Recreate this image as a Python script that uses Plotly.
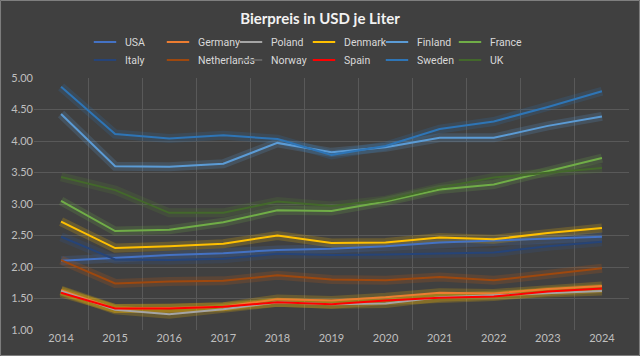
import plotly.graph_objects as go

years = ["2014", "2015", "2016", "2017", "2018", "2019", "2020", "2021", "2022", "2023", "2024"]

usa = [2.10, 2.15, 2.19, 2.22, 2.27, 2.29, 2.33, 2.39, 2.42, 2.45, 2.48]
germany = [1.63, 1.34, 1.35, 1.37, 1.49, 1.47, 1.52, 1.59, 1.58, 1.65, 1.70]
poland = [1.62, 1.32, 1.25, 1.33, 1.44, 1.41, 1.42, 1.52, 1.55, 1.59, 1.62]
denmark = [2.72, 2.30, 2.33, 2.37, 2.50, 2.38, 2.39, 2.47, 2.44, 2.54, 2.62]
finland = [4.43, 3.60, 3.59, 3.64, 3.97, 3.82, 3.90, 4.05, 4.05, 4.24, 4.39]
france = [3.05, 2.57, 2.59, 2.71, 2.90, 2.89, 3.04, 3.23, 3.31, 3.52, 3.73]
italy = [2.48, 2.12, 2.11, 2.13, 2.21, 2.19, 2.20, 2.22, 2.23, 2.33, 2.40]
netherlands = [2.11, 1.74, 1.77, 1.78, 1.87, 1.80, 1.79, 1.84, 1.79, 1.89, 1.98]
norway = [7.60, 6.90, 6.80, 6.90, 7.10, 6.80, 6.60, 7.00, 6.90, 7.10, 7.30]
spain = [1.59, 1.34, 1.34, 1.37, 1.44, 1.41, 1.47, 1.51, 1.53, 1.61, 1.66]
sweden = [4.86, 4.11, 4.04, 4.09, 4.03, 3.78, 3.92, 4.19, 4.31, 4.54, 4.79]
uk = [3.43, 3.22, 2.86, 2.86, 3.04, 2.97, 3.06, 3.26, 3.42, 3.49, 3.57]

series = [
    ("USA", usa, "#4472C4", "legend"),
    ("Germany", germany, "#ED7D31", "legend"),
    ("Poland", poland, "#A5A5A5", "legend"),
    ("Denmark", denmark, "#FFC000", "legend"),
    ("Finland", finland, "#5B9BD5", "legend"),
    ("France", france, "#70AD47", "legend"),
    ("Italy", italy, "#264478", "legend2"),
    ("Netherlands", netherlands, "#9E480E", "legend2"),
    ("Norway", norway, "#636363", "legend2"),
    ("Spain", spain, "#FF0000", "legend2"),
    ("Sweden", sweden, "#2E75B6", "legend2"),
    ("UK", uk, "#43682B", "legend2"),
]

glow = {
    "USA": "#4472C4", "Germany": "#FFC000", "Poland": "#FFC000", "Denmark": "#FFC000",
    "Finland": "#5B9BD5", "France": "#70AD47", "Italy": "#2F5597", "Netherlands": "#C55A11",
    "Norway": "#636363", "Spain": "#FFC000", "Sweden": "#2E75B6", "UK": "#548235",
}

fig = go.Figure()

# glow underlays
for name, vals, col, lg in series:
    fig.add_trace(go.Scatter(
        x=years, y=vals, mode="lines", showlegend=False, hoverinfo="skip",
        line=dict(color=glow[name], width=9), opacity=0.2,
    ))

for name, vals, col, lg in series:
    fig.add_trace(go.Scatter(
        x=years, y=vals, mode="lines", name=name, showlegend=False,
        line=dict(color=col, width=2),
    ))

# legend entries (short line samples like the original)
for name, vals, col, lg in series:
    fig.add_trace(go.Scatter(
        x=[None], y=[None], mode="markers", name=name, legend=lg,
        marker=dict(symbol="line-ew", size=18, color=col,
                    line=dict(color=col, width=2)),
    ))

txt = "#D9D9D9"
leg_font = dict(family="Liberation Sans Narrow, Roboto, Lato, sans-serif", size=10.5, color=txt)
leg_common = dict(orientation="h", xref="container", yref="container",
                  xanchor="left", yanchor="middle",
                  entrywidth=28, entrywidthmode="pixels", itemwidth=30,
                  bgcolor="rgba(0,0,0,0)", font=leg_font,
                  traceorder="normal", tracegroupgap=0)

fig.update_layout(
    width=640, height=356,
    paper_bgcolor="#404040", plot_bgcolor="#404040",
    margin=dict(l=34, r=11, t=78, b=26, autoexpand=False),
    font=dict(family="Lato, Open Sans, sans-serif", size=11, color=txt),
    title=dict(text="<b>Bierpreis in USD je Liter</b>", x=0.5, xanchor="center",
               y=1 - 19 / 356, yanchor="middle", yref="container",
               font=dict(size=15, color="#F2F2F2")),
    legend=dict(x=85 / 640, y=1 - 42 / 356, **leg_common),
    legend2=dict(x=85 / 640, y=1 - 60 / 356, **leg_common),
    xaxis=dict(type="category", tickson="boundaries", showgrid=True,
               gridcolor="#595959", gridwidth=1, ticks="", showline=False,
               zeroline=False, range=[-0.5, 10.5], automargin=False,
               tickfont=dict(size=11, color="#BFBFBF")),
    yaxis=dict(range=[1.0, 5.0], dtick=0.5, tickformat=".2f", showgrid=True,
               gridcolor="#595959", gridwidth=1, zeroline=False, showline=False,
               ticks="", automargin=False, tickfont=dict(size=11, color="#BFBFBF")),
    shapes=[dict(type="rect", xref="paper", yref="paper",
                 x0=-34 / 595 + 0.0009, x1=1 + 11 / 595 - 0.0009,
                 y0=-26 / 252 + 0.002, y1=1 + 78 / 252 - 0.002,
                 line=dict(color="#7F7F7F", width=1), layer="below")],
    showlegend=True,
)

fig.write_html("out.html", config={"displayModeBar": False},
               post_script="document.body.style.margin='0';document.body.style.overflow='hidden';")
